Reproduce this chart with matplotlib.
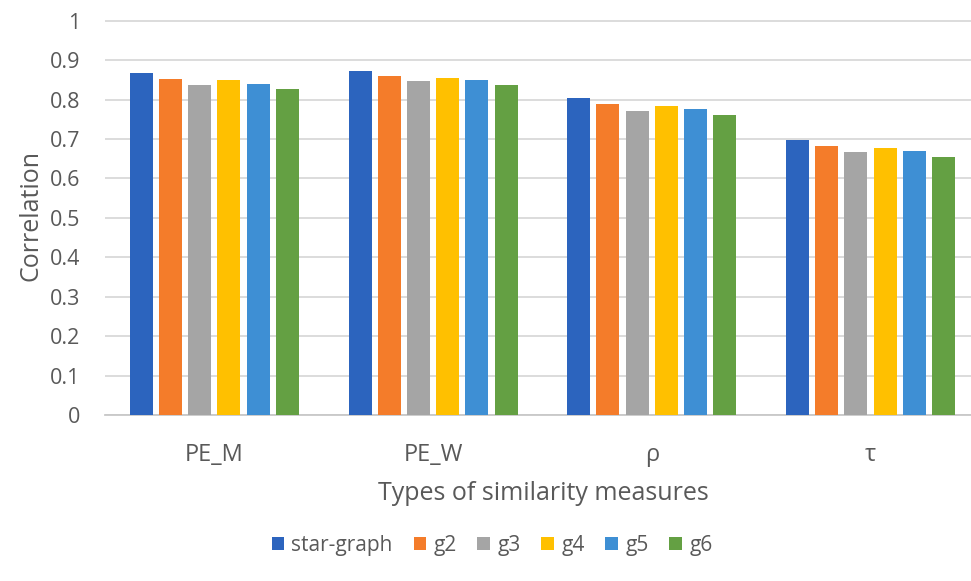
import numpy as np
import matplotlib
matplotlib.use('Agg')
import matplotlib.pyplot as plt

# data
categories = ['PE_M', 'PE_W', 'ρ', 'τ']
series = ['star-graph', 'g2', 'g3', 'g4', 'g5', 'g6']
star_graph = [0.867, 0.872, 0.803, 0.698]
g2 = [0.853, 0.860, 0.788, 0.683]
g3 = [0.838, 0.846, 0.771, 0.666]
g4 = [0.849, 0.855, 0.784, 0.678]
g5 = [0.840, 0.849, 0.775, 0.669]
g6 = [0.827, 0.836, 0.760, 0.654]
colors = ['#2C64BE', '#F47C2A', '#A5A5A5', '#FFC000', '#3E8FD4', '#64A043']

values = [star_graph, g2, g3, g4, g5, g6]

plt.rcParams['font.family'] = ['Open Sans', 'DejaVu Sans']
txt = '#595959'

W, H = 971, 581
fig = plt.figure(figsize=(W / 100, H / 100), dpi=100)
# axes: y=0 at px 415, y=1 at px 20.7; x from px 105 to the right edge
y0, y1 = 415.0, 20.7
ytop = 1.01
hpx = (y0 - y1) * ytop
ax = fig.add_axes([105 / W, (H - y0) / H, (W - 105) / W, hpx / H])

x = np.arange(len(categories))
step = 0.1335
width = 0.105
for i, (name, vals) in enumerate(zip(series, values)):
    ax.bar(x + (i - 2.5) * step, vals, width, color=colors[i], label=name,
           zorder=3)

ax.set_xlim(-0.5, -0.5 + (W - 105) / 218.7)
ax.set_ylim(0, ytop)
ax.set_yticks(np.arange(0, 1.01, 0.1))
ax.set_yticklabels(['0', '0.1', '0.2', '0.3', '0.4', '0.5', '0.6', '0.7',
                    '0.8', '0.9', '1'])
ax.set_xticks(x)
ax.set_xticklabels(categories, fontsize=17)
ax.yaxis.grid(True, color='#d9d9d9', linewidth=1.3, zorder=0)
for s in ['top', 'right', 'left']:
    ax.spines[s].set_visible(False)
ax.spines['bottom'].set_color('#c8c8c8')
ax.spines['bottom'].set_linewidth(1.3)
ax.tick_params(axis='both', length=0, colors=txt)
ax.tick_params(axis='y', labelsize=15.5, pad=18)
ax.tick_params(axis='x', pad=20)

ax.set_ylabel('Correlation', fontsize=18, color=txt, labelpad=4)
fig.text(543 / W, 1 - 493 / H, 'Types of similarity measures', fontsize=18,
         color=txt, ha='center', va='center')

fig.legend(loc='center', bbox_to_anchor=(492 / W, 1 - 545 / H), ncol=6,
           frameon=False, fontsize=15, labelcolor=txt, handlelength=0.6,
           handleheight=0.6, handletextpad=0.35, columnspacing=1.0)

fig.savefig('out.png', dpi=100)
